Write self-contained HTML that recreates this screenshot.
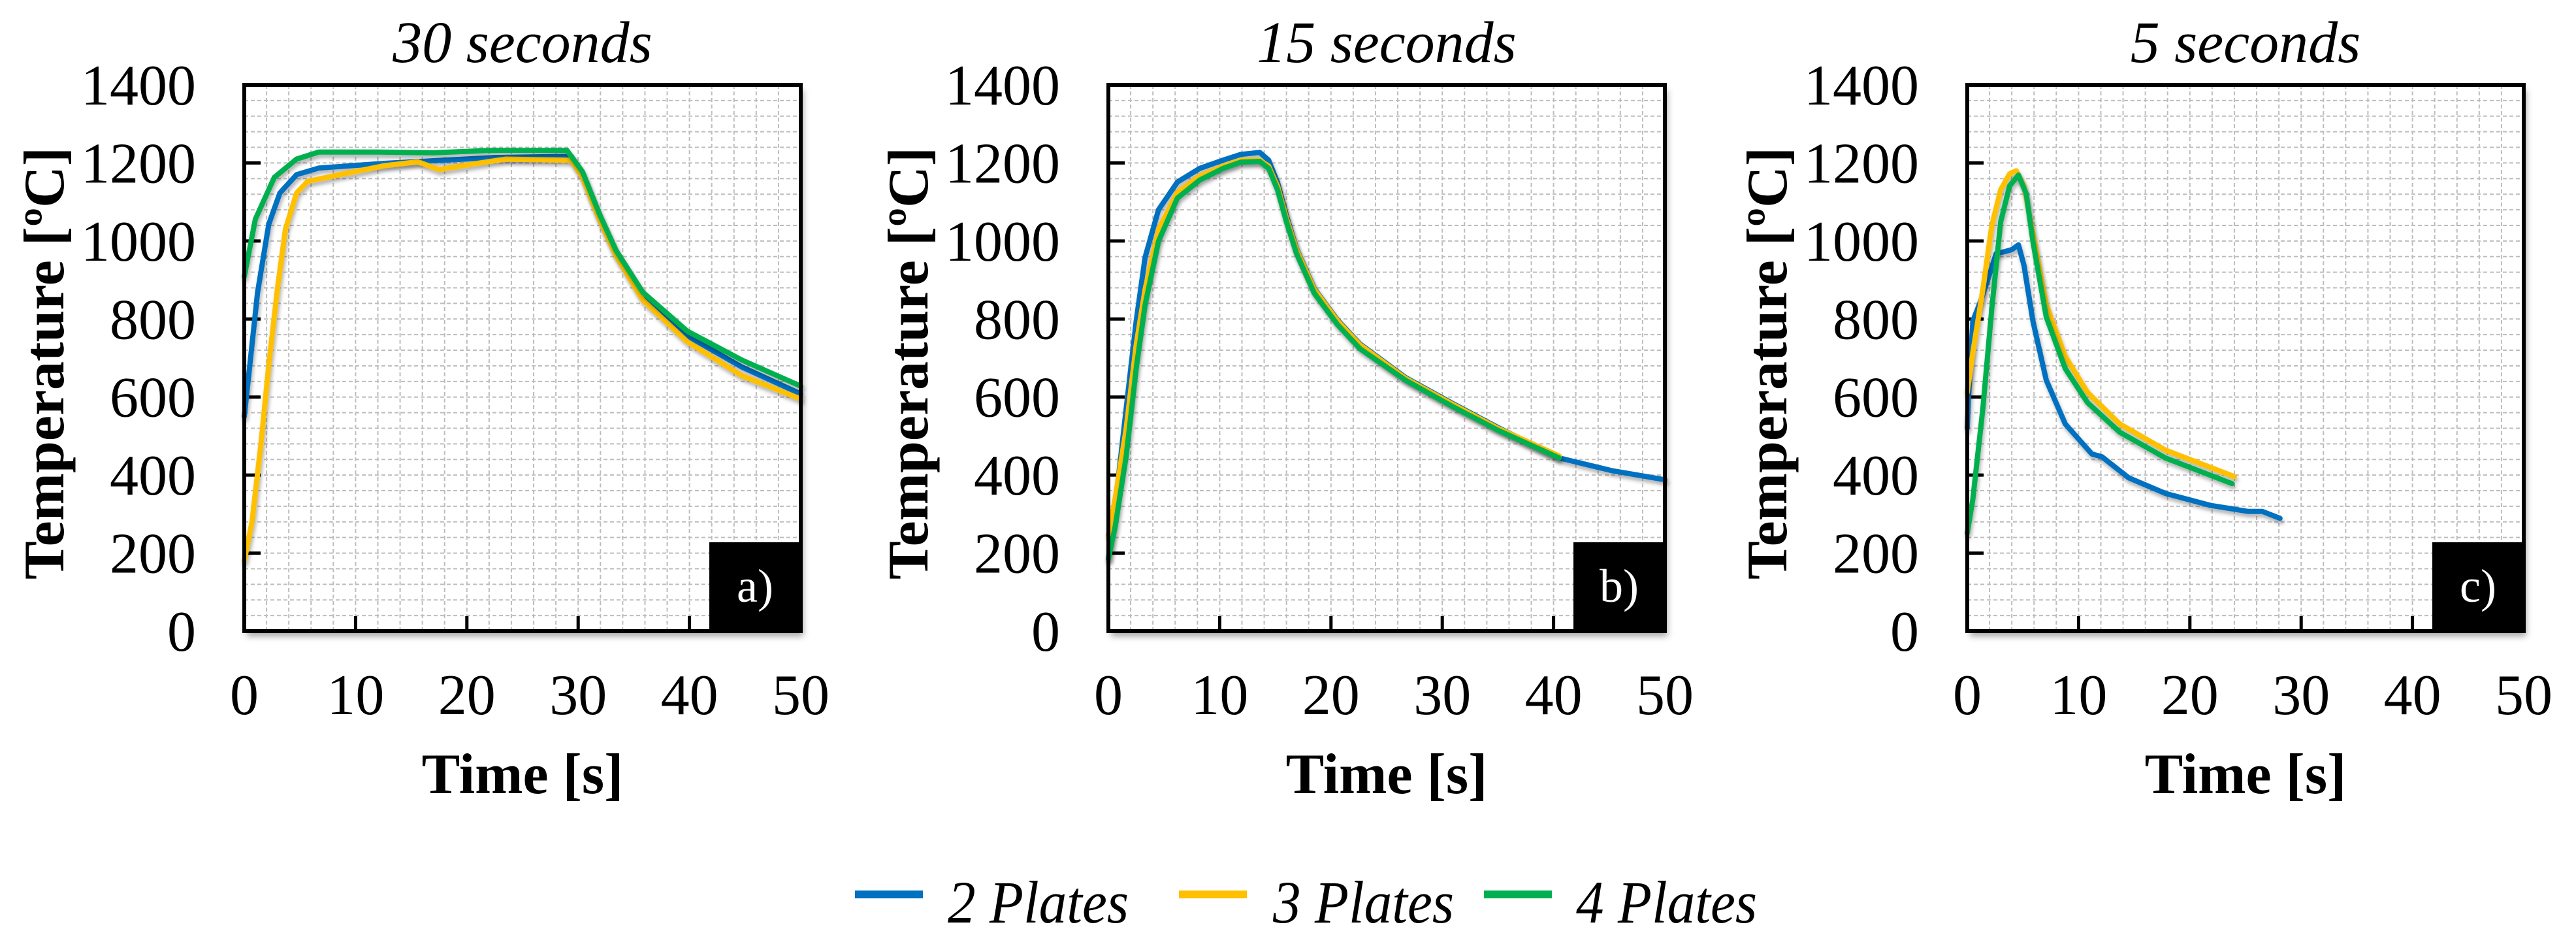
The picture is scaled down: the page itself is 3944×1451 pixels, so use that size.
<!DOCTYPE html>
<html><head><meta charset="utf-8"><style>
html,body{margin:0;padding:0;background:#fff;}
svg{display:block;font-family:"Liberation Serif",serif;}
</style></head><body>
<svg id="chart" width="3944" height="1451" viewBox="0 0 3944 1451" xmlns="http://www.w3.org/2000/svg">
<defs>
<filter id="sh" x="-10%" y="-10%" width="130%" height="130%"><feDropShadow dx="4" dy="8" stdDeviation="5" flood-color="#000" flood-opacity="0.35"/></filter>
<filter id="lsh" x="-10%" y="-10%" width="130%" height="130%"><feDropShadow dx="2" dy="5" stdDeviation="3" flood-color="#000" flood-opacity="0.3"/></filter>
</defs>
<g>
<rect x="1309" y="1363" width="104" height="12" fill="#0070C0"/>
<text x="1451" y="1412" font-size="92" font-style="italic" textLength="277" lengthAdjust="spacingAndGlyphs">2 Plates</text>
<rect x="1805" y="1363" width="104" height="12" fill="#FFC000"/>
<text x="1949" y="1412" font-size="92" font-style="italic" textLength="277" lengthAdjust="spacingAndGlyphs">3 Plates</text>
<rect x="2272" y="1363" width="104" height="12" fill="#00B050"/>
<text x="2413" y="1412" font-size="92" font-style="italic" textLength="277" lengthAdjust="spacingAndGlyphs">4 Plates</text>
</g>
</svg>
<script>
const xTicks=[0,10,20,30,40,50];
const yTicks=[0,200,400,600,800,1000,1200,1400];
const panelTitles=["30 seconds","15 seconds","5 seconds"];
const panelTags=["a)","b)","c)"];
const seriesNames=["2 Plates","3 Plates","4 Plates"];
const seriesColors=["#0070C0","#FFC000","#00B050"];
// Panel a (30 s)
const aBlueT=[0,0.5,1.2,2.2,3.2,4.7,6.7,12.6,22.5,29.4,30.4,31.9,33.4,35.8,39.8,44.7,50];
const aBlueV=[550,682,869,1043,1123,1170,1187,1199,1214,1217,1170,1063,970,860,757,677,608];
const aYellowT=[0,0.7,1.5,2.2,3,3.7,4.7,5.7,8.6,12.6,15.6,17.5,20.5,23.5,29.4,30.4,31.9,33.4,35.8,39.8,44.7,50];
const aYellowV=[180,281,481,682,882,1030,1123,1153,1170,1193,1203,1183,1197,1210,1207,1163,1056,963,849,742,655,595];
const aGreenT=[0,1,2.7,4.7,6.7,12,17,22,29,30.4,31.9,33.4,35.8,39.8,44.7,50];
const aGreenV=[909,1056,1163,1210,1228,1228,1226,1232,1232,1177,1070,976,869,769,695,628];
// Panel b (15 s)
const bBlueT=[0,0.6,1.6,2.5,3.3,4.5,6.2,8.2,10.3,11.9,13.6,14.4,15.2,16,16.9,18.5,20.6,22.6,26.7,30.9,35,40.5,45.3,50];
const bBlueV=[185,317,571,795,958,1080,1151,1186,1207,1222,1227,1207,1150,1065,980,878,797,736,650,584,522,444,411,388];
const bYellowT=[0,0.6,1.6,2.5,3.3,4.5,6.2,8.2,10.3,11.9,13.6,14.4,15.2,16,16.9,18.5,20.6,22.6,26.7,30.9,35,40.5];
const bYellowV=[246,338,520,734,876,1029,1125,1166,1192,1207,1207,1192,1141,1059,978,876,795,734,648,582,520,449];
const bGreenT=[0,0.6,1.6,2.5,3.3,4.5,6.2,8.2,10.3,11.9,13.6,14.4,15.2,16,16.9,18.5,20.6,22.6,26.7,30.9,35,40.5];
const bGreenV=[185,266,449,673,836,999,1110,1156,1186,1202,1204,1186,1131,1049,968,866,785,724,643,576,515,444];
// Panel c (5 s)
const cBlueT=[0,0.1,0.5,1.2,1.8,2.6,3.4,4,4.6,5.1,5.9,7.1,8.8,11.2,12.1,14.5,17.8,21.9,25.2,26.5,28.1];
const cBlueV=[520,592,795,846,897,968,973,978,990,937,795,643,531,454,447,393,353,322,307,307,289];
const cYellowT=[0,0.5,1.4,2.2,3,3.8,4.4,5.1,5.9,7.1,8.8,10.8,13.7,17.8,24];
const cYellowV=[612,714,876,1039,1131,1172,1180,1141,1019,836,704,612,531,464,396];
const cGreenT=[0,0.5,1.4,2.2,3,3.8,4.6,5.3,5.9,7.1,8.8,10.8,13.7,17.8,23.8];
const cGreenV=[251,338,571,826,1049,1141,1169,1121,999,805,673,586,510,444,378];

const panels=[
 {left:374,ytx:67,series:[[aBlueT,aBlueV],[aYellowT,aYellowV],[aGreenT,aGreenV]],order:[0,1,2]},
 {left:1697,ytx:1390,series:[[bBlueT,bBlueV],[bYellowT,bYellowV],[bGreenT,bGreenV]],order:[0,1,2]},
 {left:3012,ytx:2705,series:[[cBlueT,cBlueV],[cYellowT,cYellowV],[cGreenT,cGreenV]],order:[0,1,2]}
];
const TOP=130,BOT=966,W=852,XMAX=50,YMAX=1400;
const NS="http://www.w3.org/2000/svg";
const svg=document.getElementById('chart');
function mk(tag,attrs,parent){const e=document.createElementNS(NS,tag);for(const k in attrs)e.setAttribute(k,attrs[k]);parent.appendChild(e);return e;}
panels.forEach((p,pi)=>{
 const xs=t=>p.left+t/XMAX*W;
 const ys=v=>BOT-v/YMAX*(BOT-TOP);
 const g=mk('g',{},svg);
 
 
 const bg=mk('rect',{x:p.left,y:TOP,width:W,height:BOT-TOP,fill:'#fff',filter:'url(#sh)'},g);
 
 
 const grid=mk('g',{stroke:'#bdbdbd','stroke-width':2,'stroke-dasharray':'6 4'},g);
 
 
 for(let t=2;t<XMAX;t+=2){mk('line',{x1:xs(t),x2:xs(t),y1:TOP,y2:BOT},grid);}
 for(let v=40;v<YMAX;v+=40){mk('line',{x1:p.left,x2:p.left+W,y1:ys(v),y2:ys(v)},grid);}
 const tk=mk('g',{stroke:'#000','stroke-width':5},g);
 
 
 xTicks.forEach(t=>{if(t>0&&t<XMAX)mk('line',{x1:xs(t),x2:xs(t),y1:BOT,y2:BOT-23},tk);});
 yTicks.forEach(v=>{if(v>0&&v<YMAX)mk('line',{x1:p.left,x2:p.left+25,y1:ys(v),y2:ys(v)},tk);});
 p.order.forEach(si=>{
  const [T,V]=p.series[si];
  const pts=T.map((t,i)=>xs(t).toFixed(1)+','+ys(V[i]).toFixed(1)).join(' ');
  const pl=mk('polyline',{points:pts,fill:'none',stroke:seriesColors[si],'stroke-width':8,'stroke-linejoin':'round','stroke-linecap':'round',filter:'url(#lsh)'},g);
  
  
 });
 const fr=mk('rect',{x:p.left,y:TOP,width:W,height:BOT-TOP,fill:'none',stroke:'#000','stroke-width':6},g);
 
 
 const box=mk('rect',{x:p.left+W-140,y:BOT-136,width:140,height:136,fill:'#000'},g);
 
 
 const tag=mk('text',{x:p.left+W-70,y:BOT-45,'font-size':72,fill:'#fff','text-anchor':'middle'},g);
 tag.textContent=panelTags[pi];
 
 
 xTicks.forEach(t=>{const e=mk('text',{x:xs(t),y:1093,'font-size':88,'text-anchor':'middle'},g);e.textContent=t;
  
  });
 yTicks.forEach(v=>{const e=mk('text',{x:p.left-74,y:ys(v)+30,'font-size':88,'text-anchor':'end'},g);e.textContent=v;
  
  });
 const ti=mk('text',{x:p.left+W/2,y:95,'font-size':90,'font-style':'italic','text-anchor':'middle'},g);
 ti.textContent=panelTitles[pi];
 
 
 const xt=mk('text',{x:p.left+W/2,y:1214,'font-size':88,'font-weight':'bold','text-anchor':'middle'},g);
 xt.textContent='Time [s]';
 
 
 const yt=mk('text',{x:0,y:0,'font-size':88,'font-weight':'bold','text-anchor':'middle',transform:'translate('+(p.ytx+30)+',556) rotate(-90)'},g);
 yt.textContent='Temperature [ºC]';
 
 
});
</script>
</body></html>
